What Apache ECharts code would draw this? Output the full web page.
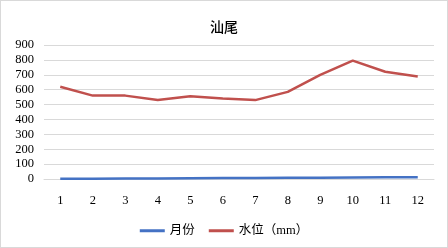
<!DOCTYPE html>
<html><head><meta charset="utf-8">
<script src="https://cdn.jsdelivr.net/npm/echarts@6/dist/echarts.min.js"></script>
<style>html,body{margin:0;padding:0;background:#fff}#c{width:448px;height:248px;box-sizing:border-box;border:1px solid #d9d9d9}</style>
</head><body><div id="c"></div>
<script>
var categories = ['1','2','3','4','5','6','7','8','9','10','11','12'];
var monthValues = [1,2,3,4,5,6,7,8,9,10,11,12];
var levelValues = [620,560,560,530,555,540,530,585,700,795,720,688];
var seriesNames = ['月份','水位（mm）'];
var titleText = '汕尾';
var font = '"Liberation Serif", "Noto Sans CJK SC", serif';
var chart = echarts.init(document.getElementById('c'));
chart.setOption({
  animation:false,
  backgroundColor:'#fff',
  title:{text:titleText,left:'center',top:14,textStyle:{fontFamily:'"Noto Sans CJK SC", sans-serif',fontSize:14,fontWeight:500,color:'#000'}},
  legend:{bottom:5,left:'center',itemWidth:25,itemHeight:3,itemGap:14,icon:'rect',
    textStyle:{fontFamily:font,fontSize:12.5,color:'#000'},
    data:seriesNames},
  grid:{left:43,right:13,top:44,bottom:68,containLabel:false},
  xAxis:{type:'category',data:categories,boundaryGap:true,
    axisLine:{lineStyle:{color:'#d9d9d9'}},axisTick:{show:false},
    axisLabel:{fontFamily:font,fontSize:12.5,color:'#000',margin:15}},
  yAxis:{type:'value',min:0,max:900,interval:100,
    axisLine:{show:false},axisTick:{show:false},
    splitLine:{lineStyle:{color:'#d9d9d9'}},
    axisLabel:{fontFamily:font,fontSize:12.5,color:'#000',margin:10}},
  series:[
    {name:seriesNames[0],type:'line',data:monthValues,symbol:'none',lineStyle:{width:2.5,color:'#4472C4'},itemStyle:{color:'#4472C4'}},
    {name:seriesNames[1],type:'line',data:levelValues,symbol:'none',lineStyle:{width:2.5,color:'#C0504D'},itemStyle:{color:'#C0504D'}}
  ]
});
</script></body></html>
